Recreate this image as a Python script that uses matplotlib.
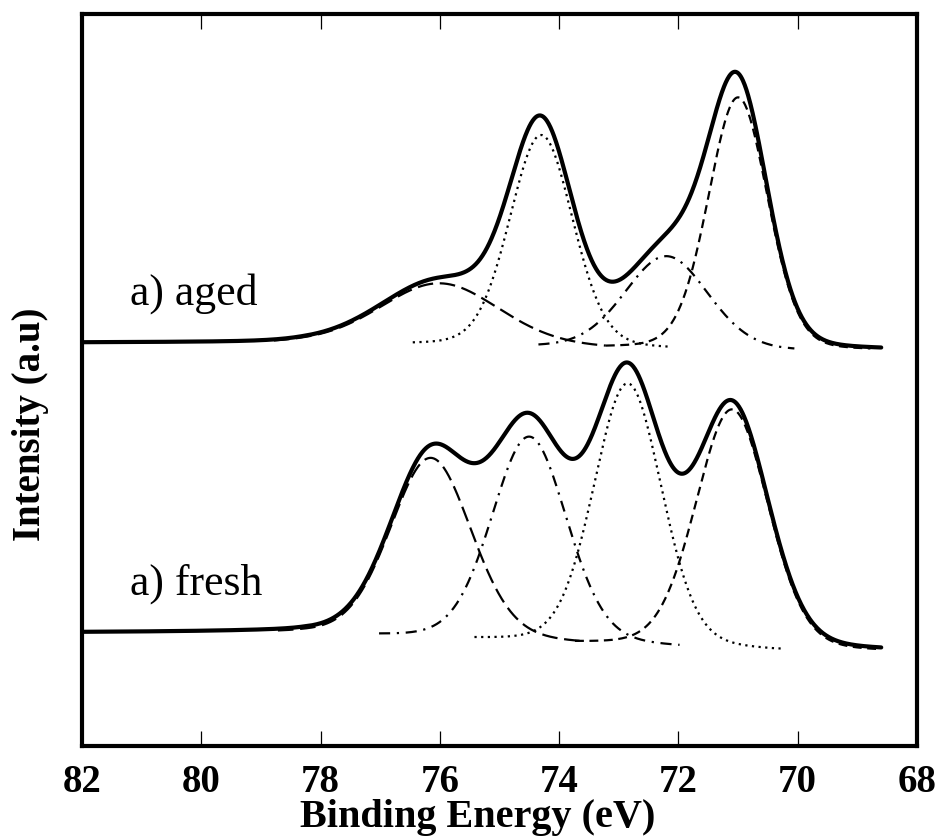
import numpy as np
from matplotlib import pyplot as plt

# peak fit parameters (eV, height in a.u., gaussian sigma in eV)
aged_centers = [76.0, 74.3, 72.2, 71.0]
aged_heights = [62, 212, 93, 253]
aged_sigmas = [1.0, 0.53, 0.7, 0.5]
aged_styles = ['longdash', 'dotted', 'dashdot', 'dashed']

fresh_centers = [76.15, 74.5, 72.85, 71.1]
fresh_heights = [180, 205, 262, 240]
fresh_sigmas = [0.68, 0.63, 0.57, 0.61]
fresh_styles = ['longdash', 'dashdot', 'dotted', 'dashed']

gl_mix = 0.15  # lorentzian share of the peak shape

# baselines, points
base_x = [82.0, 78.3, 70.4, 68.6]
aged_base = [403, 403, 395, 395]
fresh_base = [113, 113, 95, 94]

dash = {'longdash': (0, (7, 3)),
        'dotted': (0, (1, 2)),
        'dashdot': (0, (5, 3, 1, 3)),
        'dashed': (0, (4, 2.5))}

x = np.linspace(82, 68.6, 1400)

fig = plt.figure(figsize=(9.41, 8.36), dpi=100)
ax = fig.add_axes([0.0871, 0.1077, 0.8874, 0.8756])


def spectrum(centers, heights, sigmas, names, base_y):
    base = np.interp(x, base_x[::-1], base_y[::-1])
    total = base.copy()
    for c, h, s, name in zip(centers, heights, sigmas, names):
        d = x - c
        hw = s * np.sqrt(2 * np.log(2))
        comp = h * ((1 - gl_mix) * np.exp(-0.5 * (d / s) ** 2) + gl_mix / (1 + (d / hw) ** 2))
        total = total + comp
        mask = comp > 2.5
        ax.plot(x[mask], (base + comp)[mask], color='black', lw=1.6, linestyle=dash[name])
    ax.plot(x, total, color='black', lw=3.0, solid_capstyle='round')


spectrum(aged_centers, aged_heights, aged_sigmas, aged_styles, aged_base)
spectrum(fresh_centers, fresh_heights, fresh_sigmas, fresh_styles, fresh_base)

ax.text(81.2, 441, 'a) aged', fontsize=31.5, family='Liberation Serif', va='baseline', ha='left')
ax.text(81.2, 151, 'a) fresh', fontsize=31.5, family='Liberation Serif', va='baseline', ha='left')

ax.set_xlim(82, 68)
ax.set_ylim(0, 732)
ax.set_xticks([82, 80, 78, 76, 74, 72, 70, 68])
ax.set_yticks([])
ax.tick_params(axis='x', direction='in', top=True, bottom=True, length=11, width=0.9,
               labelsize=28, pad=13)
for lab in ax.get_xticklabels():
    lab.set_family('Liberation Serif')
    lab.set_fontweight('bold')
for sp in ax.spines.values():
    sp.set_linewidth(3)

ax.set_xlabel('Binding Energy (eV)', fontsize=29, family='Liberation Serif', fontweight='bold')
ax.xaxis.set_label_coords(0.4737, -0.073)
ax.set_ylabel('Intensity (a.u)', fontsize=28, family='Liberation Serif', fontweight='bold')
ax.yaxis.set_label_coords(-0.0395, 0.439)

fig.savefig('out.png', dpi=100)
